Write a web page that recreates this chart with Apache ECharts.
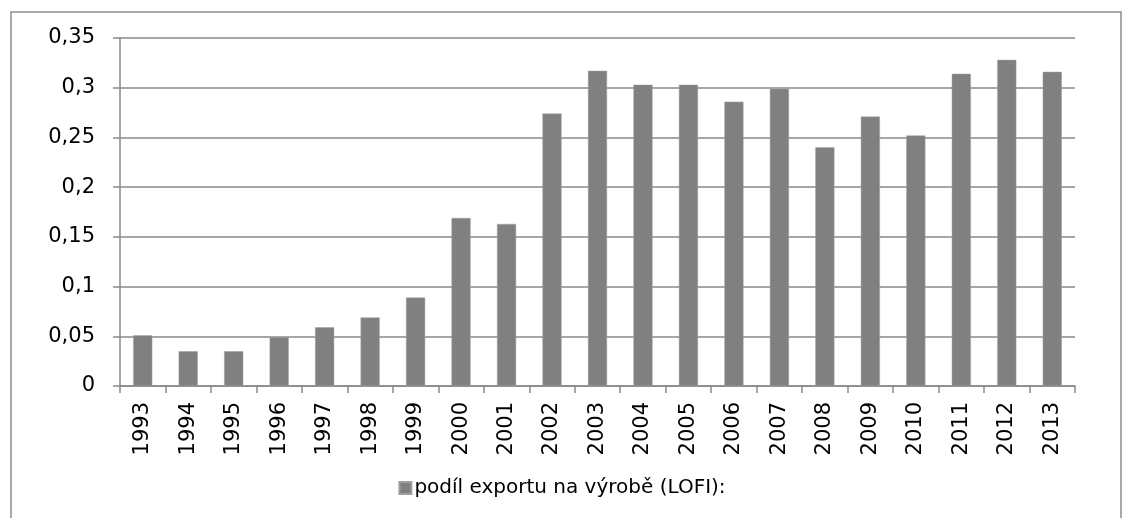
<!DOCTYPE html>
<html>
<head>
<meta charset="utf-8">
<script src="https://cdn.jsdelivr.net/npm/echarts@6/dist/echarts.min.js"></script>
<style>
  html, body { margin: 0; padding: 0; background: #fff; }
  #chart { width: 1124px; height: 518px; }
</style>
</head>
<body>
<div id="chart"></div>
<script>
// roky (osa x)
var years = ['1993', '1994', '1995', '1996', '1997', '1998', '1999', '2000', '2001', '2002', '2003',
  '2004', '2005', '2006', '2007', '2008', '2009', '2010', '2011', '2012', '2013'];
// podíl exportu na výrobě (LOFI)
var shareValues = [0.051, 0.035, 0.035, 0.049, 0.059, 0.069, 0.089, 0.169, 0.163, 0.274, 0.317,
  0.303, 0.303, 0.286, 0.299, 0.240, 0.271, 0.252, 0.314, 0.328, 0.316];
var seriesName = 'podíl exportu na výrobě (LOFI):';
var yTicks = [0, 0.35, 0.05]; // min, max, interval

var font = 'DejaVu Sans';
var chart = echarts.init(document.getElementById('chart'));

chart.setOption({
  animation: false,
  backgroundColor: '#fff',
  textStyle: { fontFamily: font },
  graphic: [{
    type: 'rect',
    shape: { x: 11, y: 12, width: 1110, height: 520 },
    style: { fill: 'none', stroke: '#8c8c8c', lineWidth: 1.5 },
    silent: true
  }],
  grid: { left: 120, right: 49, top: 38, bottom: 132 },
  legend: {
    data: [seriesName],
    left: 'center',
    top: 473,
    icon: 'rect',
    itemWidth: 12,
    itemHeight: 12,
    itemGap: 4,
    textStyle: { fontFamily: font, fontSize: 20, color: '#000', padding: [0, 0, 0, -2] }
  },
  xAxis: {
    type: 'category',
    data: years,
    axisLine: { lineStyle: { color: '#898989', width: 1.5 } },
    axisTick: { show: true, length: 7, lineStyle: { color: '#898989', width: 1.5 } },
    axisLabel: { rotate: 90, margin: 16, fontFamily: font, fontSize: 21, color: '#000' }
  },
  yAxis: {
    type: 'value',
    min: yTicks[0],
    max: yTicks[1],
    interval: yTicks[2],
    axisLine: { show: true, lineStyle: { color: '#898989', width: 1.5 } },
    axisTick: { show: true, length: 7, lineStyle: { color: '#898989', width: 1.5 } },
    splitLine: { lineStyle: { color: '#898989', width: 1.5 } },
    axisLabel: {
      margin: 25,
      fontFamily: font,
      fontSize: 21,
      color: '#000',
      formatter: function (v) { return String(+v.toFixed(2)).replace('.', ','); }
    }
  },
  series: [{
    name: seriesName,
    type: 'bar',
    data: shareValues,
    barCategoryGap: '58%',
    itemStyle: { color: '#808080', borderColor: '#a0a0a0', borderWidth: 0.5 }
  }]
});
</script>
</body>
</html>
